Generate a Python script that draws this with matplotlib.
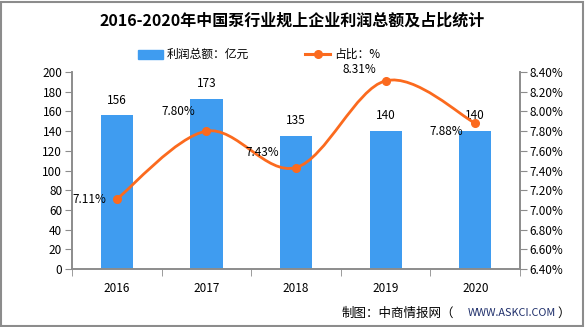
import matplotlib.pyplot as plt
from matplotlib.path import Path
from matplotlib.patches import PathPatch, Rectangle
from matplotlib.lines import Line2D
import numpy as np

plt.rcParams['font.family'] = ['Noto Sans CJK SC', 'DejaVu Sans']

# ==============================================================================
# DADOS
# ==============================================================================
anos = ["2016", "2017", "2018", "2019", "2020"]
lucro = [156, 173, 135, 140, 140]
percentual = [7.11, 7.80, 7.43, 8.31, 7.88]

AZUL = "#3f9cf0"
LARANJA = "#fb6a1e"
CINZA = "#8c8c8c"

fig = plt.figure(figsize=(5.85, 3.27), dpi=100)
ax = fig.add_axes([0.123, 0.177, 0.766, 0.603])
ax2 = ax.twinx()

x = np.arange(len(anos))
ax.bar(x, lucro, width=0.36, color=AZUL, zorder=2)
for xi, v in zip(x, lucro):
    ax.annotate(str(v), (xi, v), xytext=(0, 11), textcoords="offset points",
                ha="center", va="center", fontsize=8.5)

ax.set_xlim(-0.5, len(anos) - 0.5)
ax.set_ylim(0, 200)
ax.set_yticks(range(0, 201, 20))
ax.set_xticks(x)
ax.set_xticklabels(anos)
ax.set_xticks(np.arange(-0.5, len(anos), 1), minor=True)
ax.tick_params(axis="x", which="major", length=0, pad=9, labelsize=8.5)
ax.tick_params(axis="x", which="minor", length=5, color=CINZA)
ax.tick_params(axis="y", length=5, color=CINZA, labelsize=8.5, pad=2)

ax2.set_ylim(6.4, 8.4)
ax2.set_yticks(np.arange(6.4, 8.41, 0.2))
ax2.set_yticklabels([f"{t:.2f}%" for t in np.arange(6.4, 8.41, 0.2)])
ax2.tick_params(axis="y", length=5, color=CINZA, labelsize=8.5, pad=2)

for a in (ax, ax2):
    a.spines["top"].set_visible(False)
    for s in ("left", "right", "bottom"):
        a.spines[s].set_color(CINZA)
        a.spines[s].set_linewidth(1.2)

# linha suavizada (Catmull-Rom -> Bezier)
pts = np.column_stack([x, percentual]).astype(float)
verts = [tuple(pts[0])]
codes = [Path.MOVETO]
for i in range(len(pts) - 1):
    p0 = pts[i - 1] if i > 0 else pts[i]
    p1, p2 = pts[i], pts[i + 1]
    p3 = pts[i + 2] if i + 2 < len(pts) else pts[i + 1]
    c1 = p1 + (p2 - p0) / 6
    c2 = p2 - (p3 - p1) / 6
    verts += [tuple(c1), tuple(c2), tuple(p2)]
    codes += [Path.CURVE4] * 3
ax2.add_patch(PathPatch(Path(verts, codes), fill=False, edgecolor=LARANJA,
                        linewidth=2, zorder=3))
ax2.plot(x, percentual, "o", color=LARANJA, markersize=5.5, zorder=4)

deslocamentos = [(-20, 0), (-20, 14), (-24, 11), (-19, 8), (-21, -6)]
for xi, v, (dx, dy) in zip(x, percentual, deslocamentos):
    ax2.annotate(f"{v:.2f}%", (xi, v), xytext=(dx, dy), textcoords="offset points",
                 ha="center", va="center", fontsize=8.5)

# título e legenda
fig.text(0.5, 0.937, "2016-2020年中国泵行业规上企业利润总额及占比统计",
         ha="center", va="center", fontsize=11.5, fontweight="bold")
fig.patches.append(Rectangle((138 / 585, 1 - 59 / 327), 25 / 585, 9 / 327,
                             transform=fig.transFigure, color=AZUL))
fig.text(167 / 585, 1 - 54 / 327, "利润总额：亿元", va="center", fontsize=8.5)
fig.lines.append(Line2D([305 / 585, 330 / 585], [1 - 54 / 327] * 2,
                        transform=fig.transFigure, color=LARANJA, linewidth=2.2))
fig.lines.append(Line2D([317.5 / 585], [1 - 54 / 327], transform=fig.transFigure,
                        color=LARANJA, marker="o", markersize=5.5))
fig.text(334 / 585, 1 - 54 / 327, "占比：%", va="center", fontsize=8.5)

# rodapé
fig.text(454 / 585, 1 - 313 / 327, "制图：中商情报网（", ha="right", va="center",
         fontsize=9)
fig.text(556 / 585, 1 - 313 / 327, "WWW.ASKCI.COM", ha="right", va="center",
         fontsize=7.8, color="#1f2f6b")
fig.text(557 / 585, 1 - 313 / 327, "）", ha="left", va="center", fontsize=9)

fig.patches.append(Rectangle((0.002, 0.003), 0.994, 0.992, transform=fig.transFigure,
                             fill=False, edgecolor=CINZA, linewidth=1.5))

fig.savefig("out.png", dpi=100)
